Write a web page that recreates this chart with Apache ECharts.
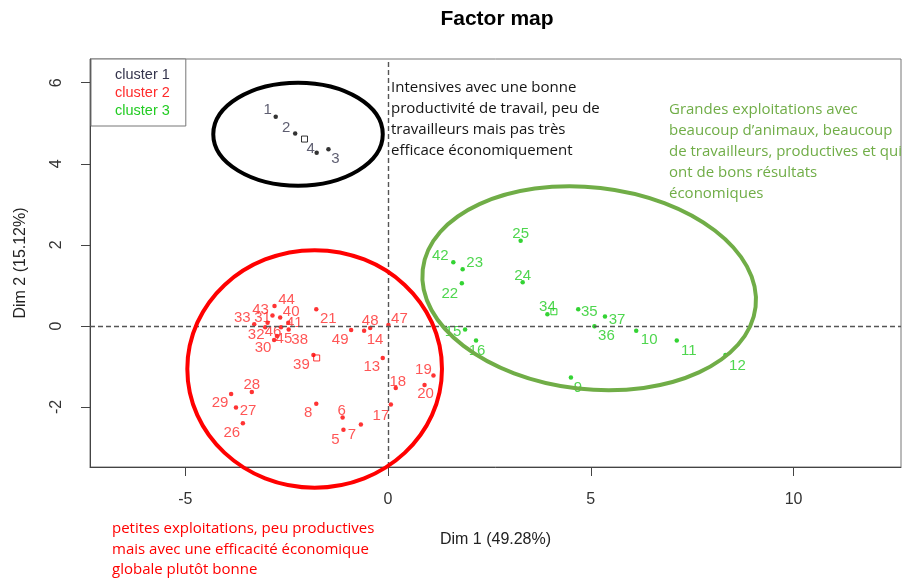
<!DOCTYPE html>
<html>
<head>
<meta charset="utf-8">
<script src="https://cdn.jsdelivr.net/npm/echarts@6/dist/echarts.min.js"></script>
<style>
  html, body { margin: 0; padding: 0; background: #ffffff; }
  #chart { width: 902px; height: 582px; }
</style>
</head>
<body>
<div id="chart"></div>
<script>
// ---- individuals on the first factorial plane, grouped by cluster ----
const clusterNames = ['cluster 1', 'cluster 2', 'cluster 3'];

const c1Labels = ['1', '2', '3', '4'];
const c1Dim1 = [-2.77, -2.29, -1.47, -1.76];
const c1Dim2 = [5.16, 4.75, 4.36, 4.27];

const c2Labels = ['5', '6', '7', '8', '13', '14', '17', '18', '19', '20', '21', '26', '27', '28', '29',
                  '30', '31', '32', '33', '38', '39', '40', '41', '43', '44', '45', '46', '47', '48', '49'];
const c2Dim1 = [-1.10, -1.12, -0.67, -1.77, -0.13, -0.59, 0.07, 0.19, 1.12, 0.90, -1.77, -3.58, -3.75, -3.36, -3.87,
                -2.81, -2.97, -3.03, -3.30, -2.45, -1.84, -2.66, -2.46, -2.85, -2.80, -2.74, -2.64, 0.01, -0.44, -0.91];
const c2Dim2 = [-2.56, -2.26, -2.43, -1.92, -0.79, -0.12, -1.94, -1.53, -1.22, -1.46, 0.41, -2.40, -2.01, -1.63, -1.68,
                -0.35, 0.08, -0.03, 0.04, -0.09, -0.72, 0.21, 0.08, 0.26, 0.49, -0.25, -0.03, 0.02, -0.05, -0.10];

const c3Labels = ['9', '10', '11', '12', '15', '16', '22', '23', '24', '25', '34', '35', '36', '37', '42'];
const c3Dim1 = [4.51, 6.12, 7.12, 8.32, 1.90, 2.17, 1.82, 1.84, 3.32, 3.27, 3.93, 4.69, 5.09, 5.35, 1.61];
const c3Dim2 = [-1.27, -0.12, -0.36, -0.72, -0.09, -0.36, 1.05, 1.40, 1.08, 2.10, 0.29, 0.41, -0.01, 0.23, 1.57];

// cluster centres (drawn as open squares)
const centroidDim1 = [-2.06, -1.76, 4.09];
const centroidDim2 = [4.61, -0.79, 0.35];

const xTicks = [-5, 0, 5, 10];
const yTicks = [-2, 0, 2, 4, 6];

// ---- styling ----
const dotColors = ['#000000', '#ff0000', '#00c800'];
const textColors = ['#34344c', '#ff2a2a', '#22cc22'];
const FONT = '"Liberation Sans", Arial, sans-serif';
const NOTE_FONT = '15px "Open Sans", sans-serif';

// label nudges (pixels from the dot to the label centre) so labels do not collide
const labelNudge = {
  '1': [-8, -7], '2': [-9, -6], '3': [7, 10], '4': [-6, -4],
  '5': [-8, 10], '6': [-1, -7], '7': [-9, 10], '8': [-8, 9], '13': [-11, 9], '14': [11, 9],
  '17': [-10, 11], '18': [2, -6], '19': [-10, -6], '20': [1, 9], '21': [12, 10], '26': [-11, 10],
  '27': [12, 3], '28': [0, -7], '29': [-11, 9], '30': [-11, 8], '31': [-5, -5], '32': [-9, 8],
  '33': [-12, -6], '38': [11, 10], '39': [-12, 10], '40': [11, -6], '41': [6, 0], '43': [-12, -6],
  '44': [12, -6], '45': [7, 3], '46': [-8, 5], '47': [11, -6], '48': [0, -7], '49': [-11, 10],
  '9': [7, 10], '10': [13, 9], '11': [12, 10], '12': [12, 11], '15': [-12, 2], '16': [1, 10],
  '22': [-12, 10], '23': [12, -6], '24': [0, -6], '25': [0, -7], '34': [0, -7], '35': [11, 3],
  '36': [12, 10], '37': [12, 3], '42': [-13, -6]
};

// outlines around each group, in data units (tilt in screen degrees, clockwise)
const groupEllipses = [
  { cx: -2.22, cy: 4.73, rx: 2.09, ry: 1.27, tilt: 0, color: '#000000' },
  { cx: -1.81, cy: -1.06, rx: 3.14, ry: 2.93, tilt: 0, color: '#ff0000' },
  { cx: 4.96, cy: 0.93, rx: 4.13, ry: 2.49, tilt: 6.4, color: '#70ad47' }
];

function pointsOf(labels, d1, d2) {
  return labels.map((n, i) => ({
    name: n,
    value: [d1[i], d2[i]],
    label: { offset: labelNudge[n] || [0, -7] }
  }));
}

const groups = [
  pointsOf(c1Labels, c1Dim1, c1Dim2),
  pointsOf(c2Labels, c2Dim1, c2Dim2),
  pointsOf(c3Labels, c3Dim1, c3Dim2)
];

const series = groups.map((data, i) => ({
  name: clusterNames[i],
  type: 'scatter',
  data: data,
  symbol: 'circle',
  symbolSize: 4.5,
  itemStyle: { color: dotColors[i] },
  label: {
    show: true,
    position: 'inside',
    formatter: '{b}',
    color: textColors[i],
    fontFamily: FONT,
    fontSize: 15
  },
  emphasis: { disabled: true },
  silent: true,
  z: 3
}));

series.push({
  type: 'scatter',
  data: centroidDim1.map((x, i) => ({
    value: [x, centroidDim2[i]],
    itemStyle: { borderColor: dotColors[i] }
  })),
  symbol: 'rect',
  symbolSize: 6,
  itemStyle: { color: 'rgba(0,0,0,0)', borderWidth: 1 },
  silent: true,
  z: 3,
  markLine: {
    silent: true,
    symbol: 'none',
    label: { show: false },
    lineStyle: { color: '#555555', type: [5, 3], width: 1.4 },
    data: [{ xAxis: 0 }, { yAxis: 0 }],
    animation: false
  }
});

const tickText = { color: '#333333', fontFamily: FONT, fontSize: 16 };
const nameText = { color: '#222222', fontFamily: FONT, fontSize: 16 };

const option = {
  animation: false,
  backgroundColor: '#ffffff',
  title: {
    text: 'Factor map',
    left: 492,
    top: 4,
    textAlign: 'center',
    textStyle: { fontFamily: FONT, fontSize: 21, fontWeight: 'bold', color: '#000000' }
  },
  legend: {
    left: 91,
    top: 59,
    orient: 'vertical',
    selectedMode: false,
    icon: 'none',
    itemWidth: 10,
    itemHeight: 14,
    itemGap: 2,
    padding: [8, 16, 7, 9],
    borderColor: '#777777',
    borderWidth: 1,
    backgroundColor: '#ffffff',
    data: clusterNames.map((n, i) => ({ name: n, textStyle: { color: textColors[i] } })),
    textStyle: { fontFamily: FONT, fontSize: 14.5, lineHeight: 16 }
  },
  grid: {
    left: 90, right: 1, top: 59, bottom: 115,
    show: true, borderColor: '#777777', borderWidth: 1,
    containLabel: false
  },
  xAxis: {
    type: 'value',
    min: -7.35,
    max: 12.65,
    name: 'Dim 1 (49.28%)',
    nameLocation: 'middle',
    nameGap: 65,
    nameTextStyle: nameText,
    axisLine: { onZero: false, lineStyle: { color: '#444444', width: 1 } },
    axisTick: { customValues: xTicks, length: 9, lineStyle: { color: '#444444' } },
    axisLabel: Object.assign({ customValues: xTicks, margin: 25 }, tickText),
    splitLine: { show: false }
  },
  yAxis: {
    type: 'value',
    min: -3.48,
    max: 6.585,
    name: 'Dim 2 (15.12%)',
    nameLocation: 'middle',
    nameGap: 61,
    nameTextStyle: nameText,
    axisLine: { onZero: false, lineStyle: { color: '#444444', width: 1 } },
    axisTick: { customValues: yTicks, length: 9, lineStyle: { color: '#444444' } },
    axisLabel: Object.assign({ customValues: yTicks, margin: 25, rotate: 90 }, tickText),
    splitLine: { show: false }
  },
  series: series
};

const chart = echarts.init(document.getElementById('chart'), null, { renderer: 'canvas' });
chart.setOption(option);

// free-text notes describing each group
const notes = [
  {
    type: 'text', x: 391, y: 77, z: 10, silent: true,
    style: {
      text: 'Intensives avec une bonne\nproductivité de travail, peu de\ntravailleurs mais pas très\nefficace économiquement',
      fill: '#141414', font: NOTE_FONT, lineHeight: 21
    }
  },
  {
    type: 'text', x: 669, y: 99, z: 10, silent: true,
    style: {
      text: 'Grandes exploitations avec\nbeaucoup d\u2019animaux, beaucoup\nde travailleurs, productives et qui\nont de bons résultats\néconomiques',
      fill: '#70ad47', font: NOTE_FONT, lineHeight: 21
    }
  },
  {
    type: 'text', x: 112, y: 518.5, z: 10, silent: true,
    style: {
      text: 'petites exploitations, peu productives\nmais avec une efficacité économique\nglobale plutôt bonne',
      fill: '#ff0000', font: NOTE_FONT, lineHeight: 20.5
    }
  }
];

// group outlines placed through the axis scales
const outlines = groupEllipses.map(e => {
  const c = chart.convertToPixel({ gridIndex: 0 }, [e.cx, e.cy]);
  const px = chart.convertToPixel({ gridIndex: 0 }, [e.cx + e.rx, e.cy]);
  const py = chart.convertToPixel({ gridIndex: 0 }, [e.cx, e.cy + e.ry]);
  return {
    type: 'ellipse', x: c[0], y: c[1], z: 5, silent: true,
    rotation: -e.tilt * Math.PI / 180,
    shape: { cx: 0, cy: 0, rx: Math.abs(px[0] - c[0]), ry: Math.abs(c[1] - py[1]) },
    style: { fill: null, stroke: e.color, lineWidth: 4 }
  };
});

chart.setOption({ graphic: notes.concat(outlines) });
</script>
</body>
</html>
